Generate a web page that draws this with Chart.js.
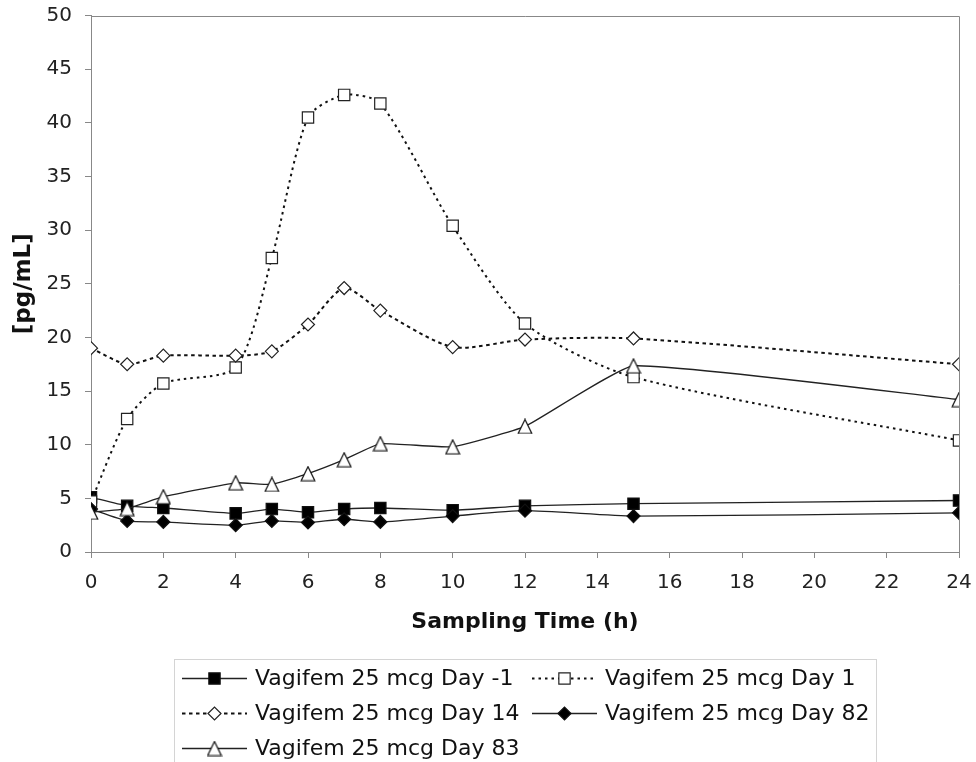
<!DOCTYPE html>
<html>
<head>
<meta charset="utf-8">
<script src="https://cdn.jsdelivr.net/npm/chart.js@4/dist/chart.umd.min.js"></script>
<style>
  html, body { margin: 0; padding: 0; background: #fff; }
  #wrap { width: 976px; height: 762px; position: relative; overflow: hidden; }
  canvas { display: block; }
</style>
</head>
<body>
<div id="wrap"><canvas id="c" width="976" height="762"></canvas></div>
<script>
// ---- data ----
const hours = [0, 1, 2, 4, 5, 6, 7, 8, 10, 12, 15, 24];
const seriesLabels = [
  'Vagifem 25 mcg Day -1',
  'Vagifem 25 mcg Day 1',
  'Vagifem 25 mcg Day 14',
  'Vagifem 25 mcg Day 82',
  'Vagifem 25 mcg Day 83'
];
const dayMinus1 = [5.1, 4.3, 4.1, 3.6, 4.0, 3.7, 4.0, 4.1, 3.9, 4.3, 4.5, 4.8];
const day1      = [4.7, 12.4, 15.7, 17.2, 27.4, 40.5, 42.6, 41.8, 30.4, 21.3, 16.3, 10.4];
const day14     = [19.0, 17.5, 18.3, 18.3, 18.7, 21.2, 24.6, 22.5, 19.1, 19.8, 19.9, 17.5];
const day82     = [4.0, 2.9, 2.8, 2.5, 2.9, 2.75, 3.05, 2.8, 3.35, 3.85, 3.35, 3.65];
const day83     = [3.7, 4.05, 5.15, 6.45, 6.3, 7.3, 8.6, 10.1, 9.8, 11.7, 17.35, 14.2];
const xTickStep = 2;
const yTickStep = 5;

const FONT = 'DejaVu Sans';

function makeTriangle() {
  const c = document.createElement('canvas');
  c.width = 16; c.height = 16;
  const g = c.getContext('2d');
  g.beginPath();
  g.moveTo(8, 1);
  g.lineTo(1.2, 15);
  g.lineTo(14.8, 15);
  g.closePath();
  g.fillStyle = '#fff';
  g.fill();
  g.lineWidth = 1.2;
  g.strokeStyle = '#111';
  g.stroke();
  return c;
}
const triImg = makeTriangle();

function pts(arr) { return hours.map((h, i) => ({x: h, y: arr[i]})); }

const solid = { borderColor: '#222', borderWidth: 1.3, borderDash: [] };
const datasets = [
  Object.assign({ label: seriesLabels[0], data: pts(dayMinus1), pointStyle: 'rect', pointRadius: 8,
    pointBackgroundColor: '#000', pointBorderColor: '#111', order: 5, tension: 0.2 }, solid),
  { label: seriesLabels[1], data: pts(day1), pointStyle: 'rect', pointRadius: 8,
    pointBackgroundColor: '#fff', pointBorderColor: '#222', borderColor: '#111', borderWidth: 2,
    borderDash: [2.5, 4], order: 4, tension: 0.25 },
  { label: seriesLabels[2], data: pts(day14), pointStyle: 'rectRot', pointRadius: 6.5,
    pointBackgroundColor: '#fff', pointBorderColor: '#222', borderColor: '#111', borderWidth: 2,
    borderDash: [3.5, 3.5], order: 3, tension: 0.25 },
  Object.assign({ label: seriesLabels[3], data: pts(day82), pointStyle: 'rectRot', pointRadius: 6.5,
    pointBackgroundColor: '#000', pointBorderColor: '#111', order: 2, tension: 0.2 }, solid),
  Object.assign({ label: seriesLabels[4], data: pts(day83), pointStyle: triImg, pointRadius: 8,
    pointBackgroundColor: '#fff', pointBorderColor: '#111', order: 1, tension: 0.12 }, solid)
];
datasets.forEach(d => { d.fill = false; d.pointBorderWidth = 1.2; d.pointHoverRadius = d.pointRadius; });

function drawMarker(ctx, ds, x, y) {
  const st = ds.pointStyle, r = ds.pointRadius;
  if (st instanceof HTMLCanvasElement) {
    ctx.drawImage(st, x - st.width / 2, y - st.height / 2);
    return;
  }
  ctx.save();
  ctx.beginPath();
  if (st === 'rect') {
    const s = Math.SQRT1_2 * r;
    ctx.rect(x - s, y - s, 2 * s, 2 * s);
  } else if (st === 'rectRot') {
    ctx.moveTo(x - r, y); ctx.lineTo(x, y - r); ctx.lineTo(x + r, y); ctx.lineTo(x, y + r); ctx.closePath();
  }
  ctx.fillStyle = ds.pointBackgroundColor;
  ctx.fill();
  ctx.lineWidth = ds.pointBorderWidth;
  ctx.strokeStyle = ds.pointBorderColor;
  ctx.setLineDash([]);
  ctx.stroke();
  ctx.restore();
}

const framePlugin = {
  id: 'frame',
  beforeDatasetsDraw(chart) {
    const {ctx, chartArea: a} = chart;
    ctx.save();
    ctx.strokeStyle = '#888';
    ctx.lineWidth = 1;
    ctx.beginPath();
    ctx.moveTo(a.left, Math.round(a.top) + 0.5);
    ctx.lineTo(Math.round(a.right) + 0.5, Math.round(a.top) + 0.5);
    ctx.lineTo(Math.round(a.right) + 0.5, a.bottom);
    ctx.stroke();
    ctx.restore();
  }
};

const legendPlugin = {
  id: 'customLegend',
  afterDraw(chart) {
    const ctx = chart.ctx;
    ctx.save();
    ctx.strokeStyle = '#d4d4d4';
    ctx.lineWidth = 1;
    ctx.strokeRect(174.5, 659.5, 702, 120);
    const cols = [182, 532];
    const rows = [678, 713, 748];
    const sampleLen = 65;
    ctx.font = '22px "' + FONT + '"';
    ctx.textBaseline = 'middle';
    ctx.textAlign = 'left';
    chart.data.datasets.forEach((ds, i) => {
      const x0 = cols[i % 2], y = rows[Math.floor(i / 2)];
      ctx.save();
      ctx.strokeStyle = ds.borderColor;
      ctx.lineWidth = ds.borderWidth;
      ctx.setLineDash(ds.borderDash || []);
      ctx.beginPath();
      ctx.moveTo(x0, y + 0.5);
      ctx.lineTo(x0 + sampleLen, y + 0.5);
      ctx.stroke();
      ctx.restore();
      drawMarker(ctx, ds, x0 + sampleLen / 2, y + 0.5);
      ctx.fillStyle = '#111';
      ctx.fillText(ds.label, x0 + 73, y + 1);
    });
    ctx.restore();
  }
};

new Chart(document.getElementById('c'), {
  type: 'line',
  data: { datasets },
  plugins: [framePlugin, legendPlugin],
  options: {
    responsive: false,
    animation: false,
    events: [],
    layout: { padding: { top: 15.5, right: 17, bottom: 117, left: 0 } },
    plugins: { legend: { display: false }, tooltip: { enabled: false } },
    scales: {
      x: {
        type: 'linear', min: 0, max: 24,
        ticks: { stepSize: xTickStep, font: { family: FONT, size: 20 }, color: '#222', padding: 13, maxRotation: 0 },
        grid: { drawOnChartArea: false, drawTicks: true, tickLength: 6, color: '#888', tickColor: '#888' },
        border: { display: true, color: '#888', width: 1 },
        title: { display: true, text: 'Sampling Time (h)', font: { family: FONT, size: 22, weight: 'bold' }, color: '#111', padding: { top: 0, bottom: 10 } },
        afterFit(scale) { scale.height = 93; scale.paddingLeft = 0; scale.paddingRight = 0; }
      },
      y: {
        type: 'linear', min: 0, max: 50,
        ticks: { stepSize: yTickStep, font: { family: FONT, size: 20 }, color: '#222', padding: 13 },
        grid: { drawOnChartArea: false, drawTicks: true, tickLength: 6, color: '#888', tickColor: '#888' },
        border: { display: true, color: '#888', width: 1 },
        title: { display: true, text: '[pg/mL]', font: { family: FONT, size: 23, weight: 'bold' }, color: '#111', padding: { top: 10, bottom: 0 } },
        afterFit(scale) { scale.width = 91; scale.paddingTop = 0; scale.paddingBottom = 0; }
      }
    }
  }
});
</script>
</body>
</html>
